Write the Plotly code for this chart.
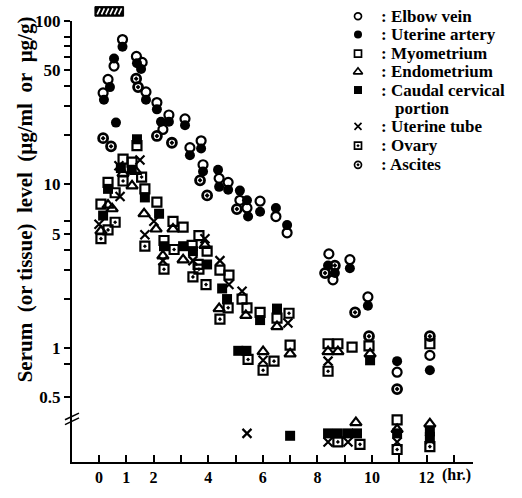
import plotly.graph_objects as go

# ---------------- data (hours after start, µg/ml or µg/g) ----------------
elbow_vein_t = [0.15, 0.33, 0.55, 0.86, 1.37, 1.58, 1.72, 2.12, 2.56, 2.34, 3.15, 3.74, 3.33, 3.81,
                4.40, 4.73, 5.16, 5.42, 5.90, 6.48, 6.89, 8.42, 8.57, 9.19, 9.85, 10.92, 12.12]
elbow_vein_v = [36.3, 43.9, 53, 77, 60.7, 55.8, 36.8, 31.7, 26.6, 21.7, 25.2, 18.5, 16.8, 13.2,
                10.9, 10.3, 8.0, 7.18, 7.9, 6.36, 5.06, 3.76, 2.61, 3.47, 2.05, 0.71, 0.90]

uterine_artery_t = [0.18, 0.40, 0.55, 0.62, 0.86, 1.39, 1.54, 1.72, 2.12, 2.27, 2.56, 3.15, 3.74, 3.33,
                    3.81, 4.36, 4.40, 4.73, 5.16, 5.42, 5.46, 5.90, 6.48, 6.89, 8.39, 8.64, 9.19, 9.85,
                    10.92, 12.12]
uterine_artery_v = [33, 39.4, 59, 23.9, 69.5, 55.2, 50.9, 33, 28.8, 24.2, 24.2, 23, 16.6, 15.1,
                    12.0, 12.3, 9.67, 9.29, 9.17, 8.0, 6.36, 6.8, 7.18, 5.64, 3.19, 2.87, 3.07, 1.81,
                    0.83, 0.73]

myometrium_t = [0.07, 0.33, 0.59, 0.88, 1.21, 1.39, 1.68, 2.12, 2.71, 3.08, 2.38, 3.41, 3.66, 3.96,
                3.63, 4.43, 4.76, 5.24, 5.42, 5.90, 6.52, 7.0, 8.39, 8.75, 9.27, 9.89, 12.12, 10.92]
myometrium_v = [7.58, 10.3, 8.9, 14.3, 13.7, 17.3, 9.4, 7.8, 5.95, 5.48, 4.54, 4.24, 4.86, 3.91,
                3.24, 2.99, 2.79, 1.99, 1.76, 1.65, 1.52, 1.04, 1.06, 1.06, 1.01, 1.03, 1.06, 0.363]

endometrium_t = [0.07, 0.33, 0.48, 0.88, 1.21, 1.35, 1.65, 2.09, 2.71, 2.34, 3.08, 3.88, 4.40, 5.38,
                 6.52, 6.01, 7.0, 8.39, 8.75, 9.93, 9.41, 10.92, 12.12]
endometrium_v = [5.19, 7.48, 7.1, 11.7, 9.8, 12.0, 6.62, 5.34, 5.34, 3.66, 3.46, 4.24, 1.74, 1.58,
                 1.35, 0.95, 0.92, 0.95, 0.95, 0.92, 0.349, 0.317, 0.343]

caudal_t = [0.15, 0.33, 0.80, 1.20, 1.39, 1.68, 2.20, 2.38, 3.08, 3.44, 3.96, 4.51, 4.69, 5.90,
            6.52, 5.10, 5.40, 9.93, 7.0, 8.39, 8.75, 9.12, 9.45, 10.92, 12.12, 12.12]
caudal_v = [6.45, 9.4, 12.6, 12.3, 18.9, 8.33, 6.62, 4.19, 4.19, 3.91, 3.24, 2.31, 1.99, 1.48,
            1.74, 0.96, 0.96, 0.84, 0.29, 0.30, 0.30, 0.30, 0.30, 0.30, 0.31, 0.286]

tube_t = [0.0, 0.73, 0.77, 1.50, 2.01, 1.68, 2.34, 3.44, 3.88, 4.43, 4.76, 5.24, 6.92, 6.01, 8.39,
          5.42, 8.39, 9.12, 10.92, 12.12]
tube_v = [5.71, 13.0, 8.45, 14.1, 5.95, 4.92, 3.42, 3.42, 4.66, 3.42, 2.44, 2.22, 1.42, 0.84, 0.83,
          0.30, 0.266, 0.266, 0.266, 0.275]

ovary_t = [0.07, 0.33, 0.59, 0.88, 1.56, 1.68, 2.38, 2.75, 3.44, 3.66, 3.92, 4.73, 4.43, 6.96,
           5.46, 6.01, 6.41, 8.39, 8.75, 9.56, 10.92, 12.12]
ovary_v = [4.66, 5.27, 5.87, 10.5, 11.1, 4.19, 3.03, 4.0, 2.72, 3.03, 2.44, 1.76, 1.50, 1.63,
           0.85, 0.73, 0.83, 0.72, 0.266, 0.257, 0.239, 0.249]

ascites_t = [0.15, 0.44, 1.36, 1.43, 2.12, 2.67, 3.70, 3.96, 5.05, 8.64, 8.28, 9.38, 9.89, 10.92, 12.12]
ascites_v = [19.2, 17.1, 44.4, 39.4, 19.8, 18.0, 10.6, 8.57, 7.07, 3.19, 2.87, 1.65, 1.18, 0.56, 1.18]

series_names = ["Elbow vein", "Uterine artery", "Myometrium", "Endometrium",
                "Caudal cervical", "Uterine tube", "Ovary", "Ascites"]

infusion_hr = (-0.15, 0.9)

x_tickvals = list(range(0, 14))
x_ticktext = ["0", "1", "2", "", "4", "", "6", "", "8", "", "10", "", "12", ""]
y_tickvals = [0.5, 0.8, 1, 2, 3, 4, 5, 6, 10, 20, 30, 40, 50, 60, 70, 80, 100]
y_ticktext = ["0.5", "", "1", "", "", "", "5", "", "10", "", "", "", "50", "", "", "", "100"]

# ---------------- styling ----------------
FONT = "Liberation Serif"
W, H = 522, 498
L, R, T, B = 72, 49, 18, 20
PW, PH = W - L - R, H - T - B


def px(xp):
    return (xp - L) / PW


def py(yp):
    return (H - B - yp) / PH


styles = [
    dict(symbol="circle-open", size=9, line=dict(width=2.2, color="black"), color="black"),
    dict(symbol="circle", size=10, color="black"),
    dict(symbol="square-open", size=9, line=dict(width=2.2, color="black"), color="black"),
    dict(symbol="triangle-up-open", size=10, line=dict(width=2.2, color="black"), color="black"),
    dict(symbol="square", size=10, color="black"),
    dict(symbol="x-thin-open", size=9, line=dict(width=2.2, color="black"), color="black"),
    dict(symbol="square-open-dot", size=9, line=dict(width=2.2, color="black"), color="black"),
    dict(symbol="circle-open-dot", size=9, line=dict(width=2.8, color="black"), color="black"),
]

data = [(elbow_vein_t, elbow_vein_v), (uterine_artery_t, uterine_artery_v),
        (myometrium_t, myometrium_v), (endometrium_t, endometrium_v),
        (caudal_t, caudal_v), (tube_t, tube_v), (ovary_t, ovary_v), (ascites_t, ascites_v)]

fig = go.Figure()
for name, (t, v), st in zip(series_names, data, styles):
    fig.add_trace(go.Scatter(x=t, y=v, mode="markers", name=name, marker=st,
                             showlegend=False, cliponaxis=False))

shapes = []
LEGEND_FONT = dict(family=FONT, size=17, color="black", weight="bold")
# custom legend (symbols on a pixel overlay axis, text as annotations)
leg_y = [13, 32, 52, 71, 90, 128, 148, 168]
for i, (name, st, ly) in enumerate(zip(series_names, styles, leg_y)):
    if i == 0:
        # sits above the plotting area: drawn as a shape
        shapes.append(dict(type="circle", xref="paper", yref="paper",
                           x0=px(354.5), x1=px(361.5), y0=py(16.5), y1=py(9.5),
                           line=dict(color="black", width=1.7)))
    else:
        st2 = dict(st)
        st2["size"] = st["size"] - 2
        if "line" in st2:
            st2["line"] = dict(width=1.7, color="black")
        fig.add_trace(go.Scatter(x=[358], y=[ly], xaxis="x2", yaxis="y2", mode="markers",
                                 marker=st2, showlegend=False, cliponaxis=False, hoverinfo="skip"))
    fig.add_annotation(x=px(379), y=py(ly), xref="paper", yref="paper", xanchor="left",
                       yanchor="middle", text=": " + name, showarrow=False, font=LEGEND_FONT)
fig.add_annotation(x=px(393), y=py(109), xref="paper", yref="paper", xanchor="left",
                   yanchor="middle", text="portion", showarrow=False, font=LEGEND_FONT)

# y axis title
fig.add_annotation(x=px(25), y=py(204), xref="paper", yref="paper", textangle=-90,
                   xanchor="center", yanchor="middle",
                   text="Serum&nbsp; (or tissue)&nbsp; level&nbsp; (μg/ml&nbsp; or&nbsp; μg/g)",
                   showarrow=False,
                   font=dict(family=FONT, size=21, color="black", weight="bold"))
# x unit
fig.add_annotation(x=12.5, y=0, xref="x", yref="paper", xanchor="left", yanchor="top",
                   yshift=-2, text="(hr.)", showarrow=False,
                   font=dict(family=FONT, size=16, color="black", weight="bold"))

# infusion bar
y0b, y1b = py(13), py(3)
shapes.append(dict(type="rect", xref="x", yref="paper", x0=infusion_hr[0], x1=infusion_hr[1],
                   y0=y0b, y1=y1b, fillcolor="black", line=dict(color="black", width=1)))
span = infusion_hr[1] - infusion_hr[0]
for k in range(6):
    xs = infusion_hr[0] + span * (0.08 + 0.15 * k)
    shapes.append(dict(type="line", xref="x", yref="paper", x0=xs, x1=xs + span * 0.1,
                       y0=y0b + 0.004, y1=y1b - 0.004, line=dict(color="white", width=1.6)))
# axis break marks
for dy in (0, 5):
    shapes.append(dict(type="line", xref="paper", yref="paper", x0=px(65), x1=px(79),
                       y0=py(434 + dy), y1=py(427 + dy), line=dict(color="black", width=1.6)))

fig.update_layout(
    width=W, height=H, autosize=False,
    margin=dict(l=L, r=R, t=T, b=B),
    paper_bgcolor="white", plot_bgcolor="white",
    font=dict(family=FONT, color="black"),
    shapes=shapes,
    xaxis=dict(range=[-0.99, 13.7], showline=True, linewidth=2, linecolor="black",
               ticks="inside", ticklen=7, tickwidth=1.5, tickcolor="black",
               tickvals=x_tickvals, ticktext=x_ticktext, showgrid=False, zeroline=False,
               tickfont=dict(family=FONT, size=16, weight="bold")),
    yaxis=dict(type="log", range=[-0.698, 2.0], showline=True, linewidth=2, linecolor="black",
               ticks="outside", ticklen=6, tickwidth=1.5, tickcolor="black",
               tickvals=y_tickvals, ticktext=y_ticktext, showgrid=False, zeroline=False,
               tickfont=dict(family=FONT, size=17, weight="bold")),
    xaxis2=dict(overlaying="x", range=[L, W - R], visible=False, anchor="y2"),
    yaxis2=dict(overlaying="y", range=[H - B, T], visible=False, anchor="x2"),
)

fig.write_html("out.html")
